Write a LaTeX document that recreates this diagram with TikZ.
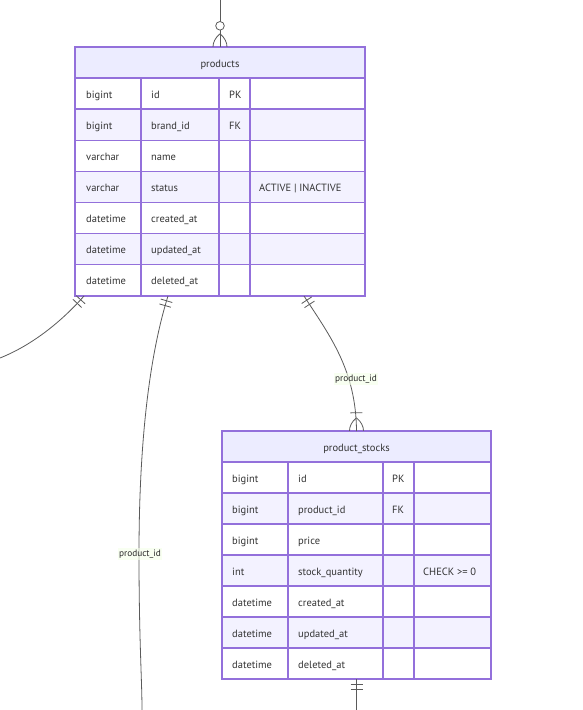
\documentclass[tikz,border=0pt]{standalone}
\usepackage{fontspec}
\setmainfont{PT Sans}
\usetikzlibrary{decorations.markings}

\definecolor{erborder}{HTML}{9370DB}
\definecolor{erhead}{HTML}{ECECFF}
\definecolor{errow}{HTML}{F3F2FF}
\definecolor{erline}{HTML}{5A5A5A}
\definecolor{ertext}{HTML}{333333}
\definecolor{erlabelbg}{HTML}{F4FFE8}

\tikzset{
  erbox/.style={rectangle, inner sep=0pt, outer sep=0pt},
  cell/.style={anchor=base west, inner sep=0pt, text=ertext, font=\fontsize{10.5}{12}\selectfont},
  headcell/.style={anchor=base, inner sep=0pt, text=ertext, font=\fontsize{10.5}{12}\selectfont},
  erlabel/.style={fill=erlabelbg, fill opacity=0.6, text opacity=1, text=ertext!80!black, inner sep=1.5pt, font=\fontsize{9.3}{11}\selectfont},
  rel/.style={draw=erline, line width=0.8pt},
  onestart/.style={postaction={decorate, decoration={markings,
      mark=at position 5pt with {\draw[erline, line width=0.8pt] (0pt,-6pt) -- (0pt,6pt);},
      mark=at position 10pt with {\draw[erline, line width=0.8pt] (0pt,-6pt) -- (0pt,6pt);}}}},
  manyend/.style={postaction={decorate, decoration={markings,
      mark=at position -0.2pt with {
        \draw[erline, line width=0.8pt] (-18pt,-6pt) -- (-18pt,6pt);
        \draw[erline, line width=0.8pt] (-13pt,0pt) .. controls (-9pt,5pt) and (-4pt,7pt) .. (0pt,7pt);
        \draw[erline, line width=0.8pt] (-13pt,0pt) .. controls (-9pt,-5pt) and (-4pt,-7pt) .. (0pt,-7pt);}}}},
  zeromanyend/.style={postaction={decorate, decoration={markings,
      mark=at position -0.2pt with {
        \draw[erline, line width=0.8pt, fill=white] (-21pt,0pt) circle (4.3pt);
        \draw[erline, line width=0.8pt] (-13pt,0pt) .. controls (-9pt,5pt) and (-4pt,7pt) .. (0pt,7pt);
        \draw[erline, line width=0.8pt] (-13pt,0pt) .. controls (-9pt,-5pt) and (-4pt,-7pt) .. (0pt,-7pt);}}}}
}

\begin{document}
\begin{tikzpicture}[x=1pt, y=-1pt]
  \useasboundingbox (0,0) rectangle (583,710);

  % products
  \node[erbox, minimum width=290pt, minimum height=249pt] (products) at (220,171.5) {};
  \fill[erhead] (75,47) rectangle (365,78);
  \foreach \i/\bg/\ty/\nm/\ky/\cm in {0/white/bigint/id/PK/{}, 1/errow/bigint/brand\_id/FK/{},
      2/white/varchar/name/{}/{}, 3/errow/varchar/status/{}/ACTIVE | INACTIVE,
      4/white/datetime/created\_at/{}/{}, 5/errow/datetime/updated\_at/{}/{},
      6/white/datetime/deleted\_at/{}/{}} {
    \fill[\bg] (75,78+31.14*\i) rectangle (365,109.14+31.14*\i);
    \node[cell] at (86,98+31.14*\i) {\ty};
    \node[cell] at (151,98+31.14*\i) {\nm};
    \node[cell] at (229,98+31.14*\i) {\ky};
    \node[cell] at (259,98+31.14*\i) {\cm};
    \draw[erborder, line width=1.3pt] (75,78+31.14*\i) -- (365,78+31.14*\i);
  }
  \foreach \x in {141,219,250}
    \draw[erborder, line width=1.3pt] (\x,78) -- (\x,296);
  \draw[erborder, line width=1.3pt] (products.north west) rectangle (products.south east);
  \node[headcell] (productshead) at (220,67) {products};

  % product_stocks
  \node[erbox, minimum width=269pt, minimum height=248pt] (stocks) at (356.5,555) {};
  \fill[erhead] (222,431) rectangle (491,462);
  \foreach \i/\bg/\ty/\nm/\ky/\cm in {0/white/bigint/id/PK/{}, 1/errow/bigint/product\_id/FK/{},
      2/white/bigint/price/{}/{}, 3/errow/int/stock\_quantity/{}/CHECK >= 0,
      4/white/datetime/created\_at/{}/{}, 5/errow/datetime/updated\_at/{}/{},
      6/white/datetime/deleted\_at/{}/{}} {
    \fill[\bg] (222,462+31*\i) rectangle (491,493+31*\i);
    \node[cell] at (232,482+31*\i) {\ty};
    \node[cell] at (298,482+31*\i) {\nm};
    \node[cell] at (392,482+31*\i) {\ky};
    \node[cell] at (423,482+31*\i) {\cm};
    \draw[erborder, line width=1.3pt] (222,462+31*\i) -- (491,462+31*\i);
  }
  \foreach \x in {288,383,414}
    \draw[erborder, line width=1.3pt] (\x,462) -- (\x,679);
  \draw[erborder, line width=1.3pt] (stocks.north west) rectangle (stocks.south east);
  \node[headcell] (stockshead) at (356.5,451) {product\_stocks};

  % relations
  \coordinate (topend) at (220,0);
  \coordinate (leftend) at (0,358);
  \coordinate (botend) at (142,710);
  \coordinate (stocksout) at (356.5,710);

  \draw[rel, zeromanyend] (topend) -- (products.north);
  \draw[rel, onestart] ([xshift=9pt]products.south west) .. controls (70,312) and (40,342) .. (leftend);
  \draw[rel, onestart] ([xshift=93pt]products.south west) .. controls (148,360) and (139,450) .. (139,554)
    .. controls (139,640) and (142,680) .. (botend);
  \draw[rel, onestart, manyend] ([xshift=229pt]products.south west) .. controls (330,336) and (356,370) .. (stocks.north);
  \draw[rel, onestart] (stocks.south) -- (stocksout);

  \node[erlabel] (stocklabel) at (356,379) {product\_id};
  \node[erlabel] (botlabel) at (140,554) {product\_id};
\end{tikzpicture}
\end{document}
